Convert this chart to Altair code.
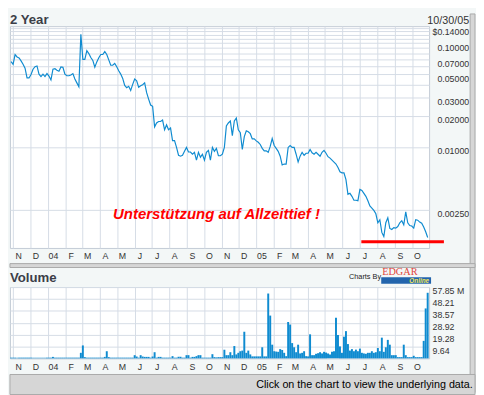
import altair as alt
import pandas as pd

# ---------------- data ----------------
DATES = pd.date_range("2003-10-28", periods=210, freq="84h")
DATE_STR = [d.strftime("%Y-%m-%dT%H:%M:%SZ") for d in DATES]

PRICE = [
    0.0664, 0.0627, 0.0778, 0.0737, 0.0721, 0.0676, 0.0627, 0.0575, 0.0463, 0.0463,
    0.0499, 0.0562, 0.0594, 0.0604, 0.0504, 0.0478, 0.0504, 0.0478, 0.0510, 0.0483,
    0.0443, 0.0562, 0.0568, 0.0550, 0.0538, 0.0591, 0.0587, 0.0504, 0.0486, 0.0486,
    0.0494, 0.0510, 0.0453, 0.0415, 0.0381, 0.1220, 0.0698, 0.0698, 0.0849, 0.0795,
    0.0729, 0.0683, 0.0587, 0.0661, 0.0724, 0.0778, 0.0778, 0.0830, 0.0778, 0.0691,
    0.0613, 0.0613, 0.0640, 0.0594, 0.0544, 0.0504, 0.0458, 0.0393, 0.0373, 0.0385,
    0.0351, 0.0402, 0.0453, 0.0434, 0.0377, 0.0389, 0.0398, 0.0415, 0.0334, 0.0290,
    0.0254, 0.0247, 0.01566, 0.01707, 0.01764, 0.01764, 0.01822, 0.01467, 0.01635, 0.01467,
    0.01532, 0.01156, 0.01156, 0.00993, 0.00835, 0.00818, 0.00835, 0.00911, 0.00993, 0.00897,
    0.00897, 0.00854, 0.00891, 0.00750, 0.00891, 0.00800, 0.00854, 0.00750, 0.00891, 0.00931,
    0.00750, 0.00993, 0.00911, 0.00972, 0.00826, 0.00826, 0.00854, 0.00993, 0.01600, 0.01707,
    0.01783, 0.01289, 0.01783, 0.01903, 0.01467, 0.01375, 0.00951, 0.01261, 0.01436, 0.01405,
    0.01346, 0.01199, 0.01199, 0.01148, 0.01114, 0.01060, 0.00972, 0.00921, 0.00921, 0.00891,
    0.01015, 0.01208, 0.01037, 0.00972, 0.00911, 0.00818, 0.00673, 0.00687, 0.00687, 0.00993,
    0.01037, 0.00993, 0.00993, 0.00854, 0.00718, 0.00818, 0.00891, 0.00835, 0.00873, 0.00873,
    0.00951, 0.00882, 0.00854, 0.00891, 0.00854, 0.00818, 0.00891, 0.00931, 0.00873, 0.00809,
    0.00783, 0.00750, 0.00718, 0.00687, 0.00637, 0.00578, 0.00566, 0.00566, 0.00486, 0.00351,
    0.00359, 0.00336, 0.00308, 0.00308, 0.00305, 0.00392, 0.00383, 0.00359, 0.00336, 0.00305,
    0.00271, 0.00259, 0.00246, 0.00228, 0.00187, 0.00200, 0.00151, 0.00138, 0.00187, 0.00209,
    0.00165, 0.00161, 0.00168, 0.00166, 0.00172, 0.00187, 0.00196, 0.00179, 0.00238, 0.00187,
    0.00176, 0.00174, 0.00166, 0.00200, 0.00198, 0.00190, 0.00185, 0.00170, 0.00153, 0.00135,
]

VOLUME = [  # millions
    0.6, 0.6, 0.6, 0.6, 0.6, 0.6, 0.6, 0.6, 0.6, 0.6,
    0.6, 0.6, 0.6, 0.6, 0.6, 0.6, 0.6, 0.6, 0.6, 0.6,
    0.6, 1.2, 0.6, 0.6, 0.6, 0.6, 0.6, 0.6, 0.6, 0.6,
    0.6, 0.6, 0.6, 0.6, 0.6, 4.5, 10.5, 1.0, 0.6, 0.6,
    0.6, 0.6, 0.6, 0.6, 0.6, 0.6, 0.6, 1.2, 5.8, 1.0,
    0.6, 0.6, 0.6, 0.6, 0.6, 0.6, 0.6, 0.6, 0.6, 0.6,
    0.6, 0.6, 2.6, 1.5, 0.6, 2.6, 1.5, 1.2, 1.2, 1.2,
    0.6, 1.5, 5.0, 0.6, 1.2, 1.2, 0.6, 0.6, 0.6, 0.6,
    0.6, 1.8, 0.6, 0.6, 1.3, 1.3, 0.6, 0.6, 2.6, 2.6,
    0.6, 1.2, 1.2, 1.8, 2.6, 2.6, 0.6, 0.6, 0.6, 0.6,
    0.6, 3.4, 1.0, 0.8, 1.0, 1.0, 1.0, 7.0, 2.6, 2.6,
    5.0, 2.6, 10.0, 3.2, 4.5, 5.8, 6.3, 21.6, 4.5, 6.3,
    3.2, 1.6, 1.6, 1.6, 1.6, 1.6, 9.0, 1.6, 1.6, 52.6,
    34.7, 11.1, 5.8, 5.5, 5.3, 7.5, 6.8, 4.5, 1.8, 29.5,
    27.4, 12.4, 9.0, 5.0, 11.1, 4.0, 4.5, 5.8, 1.8, 1.6,
    19.5, 2.6, 2.6, 3.7, 4.2, 5.0, 4.0, 5.3, 4.7, 4.0,
    3.2, 5.3, 5.8, 32.9, 18.9, 9.7, 4.5, 17.6, 22.1, 11.6,
    6.3, 7.5, 5.8, 7.1, 5.8, 7.9, 4.5, 4.0, 3.7, 4.5,
    4.5, 5.8, 4.5, 5.0, 8.4, 5.8, 16.8, 5.3, 9.0, 15.0,
    11.1, 2.6, 2.6, 2.6, 1.0, 1.0, 1.0, 11.1, 2.6, 1.0,
    1.0, 1.0, 2.1, 1.0, 1.0, 1.0, 1.0, 14.2, 40.5, 53.2,
]

PRICE_GRID = [0.0025, 0.01, 0.02, 0.03, 0.04, 0.05, 0.06, 0.07, 0.08, 0.09,
              0.10, 0.11, 0.12, 0.13, 0.14]
PRICE_LABELED = [0.0025, 0.01, 0.02, 0.03, 0.05, 0.07, 0.10, 0.14]
PRICE_DOMAIN = [0.00107, 0.1458]
VOL_TICKS = [9.64, 19.28, 28.92, 38.57, 48.21, 57.85]
VOL_DOMAIN = [0, 57.85]

SUPPORT = [{"start": "2005-07-04", "end": "2005-11-26", "price": 0.00123}]
NOTE = [{"date": "2004-04-24", "price": 0.00204,
         "text": "Unterstützung auf Allzeittief !"}]

TITLE_TOP = "2 Year"
DATE_LABEL = "10/30/05"
TITLE_BOTTOM = "Volume"
FOOTER = "Click on the chart to view the underlying data."

# ---------------- style ----------------
FONT = "Liberation Sans"
BLUE = "#0f8bd0"
GRID = "#d5dce5"
PANEL = "#f3f7f7"
OUTER = "#d6d6d6"
BORDER = "#a9a9a9"
TXT = "#333333"
W, H1, H2 = 429, 227, 73

df = pd.DataFrame({"date": DATE_STR, "price": PRICE, "volume": VOLUME})
ONE = pd.DataFrame({"k": [0]})

xscale = alt.Scale(
    type="utc",
    domain=[alt.DateTime(year=2003, month=10, date=26, utc=True),
            alt.DateTime(year=2005, month=10, date=31, utc=True)],
    nice=False, padding=0,
)
month_expr = ("utcFormat(datum.value, '%m') == '01' ? utcFormat(datum.value, '%y') "
              ": slice(utcFormat(datum.value, '%b'), 0, 1)")


def xaxis():
    return alt.Axis(title=None, grid=True, gridColor=GRID, gridWidth=1,
                    tickCount={"interval": "month", "step": 1},
                    labelExpr=month_expr, labelOffset=5, labelPadding=4,
                    ticks=False, tickSize=0, domain=False, labelFont=FONT,
                    labelFontSize=9, labelColor=TXT, labelOverlap=False,
                    labelFlush=False)


labeled = ",".join(repr(v) for v in PRICE_LABELED)
price_expr = (f"indexof([{labeled}], datum.value) < 0 ? '' : "
              f"(datum.value >= {max(PRICE_LABELED)} ? '$' : '') + format(datum.value, '.5f')")
yaxis = alt.Axis(title=None, orient="right", values=PRICE_GRID, labelExpr=price_expr,
                 grid=True, gridColor=GRID, gridWidth=1, ticks=False, tickSize=0,
                 domain=False, labelAlign="right", labelBaseline="top",
                 labelPadding=40.5, labelFont=FONT, labelFontSize=9, labelColor=TXT,
                 labelOverlap=False, labelFlush=False)
yscale = alt.Scale(type="log", domain=PRICE_DOMAIN, nice=False, padding=0)

FS = "\u2007"
vol_expr = (f"(datum.value < 10 ? '{FS}' : '') + format(datum.value, '.2f') "
            f"+ (datum.value > {max(VOL_TICKS) - 0.5} ? ' M' : '')")
vaxis = alt.Axis(title=None, orient="right", values=VOL_TICKS, labelExpr=vol_expr,
                 grid=True, gridColor=GRID, gridWidth=1, ticks=False, tickSize=0,
                 domain=False, labelAlign="left", labelBaseline="top",
                 labelPadding=3, labelFont=FONT, labelFontSize=9, labelColor=TXT,
                 labelOverlap=False, labelFlush=False)


def deco_rect(x, x2, y, y2, **kw):
    return alt.Chart(ONE).mark_rect(**kw).encode(
        x=alt.value(x), x2=alt.value(x2), y=alt.value(y), y2=alt.value(y2))


def deco_text(text, x, y, **kw):
    return alt.Chart(ONE).mark_text(text=text, **kw).encode(
        x=alt.value(x), y=alt.value(y))


# ---------------- price panel ----------------
line = alt.Chart(df).mark_line(color=BLUE, strokeWidth=1.2).encode(
    x=alt.X("date:T", scale=xscale, axis=xaxis()),
    y=alt.Y("price:Q", scale=yscale, axis=yaxis),
)
support = alt.Chart(pd.DataFrame(SUPPORT)).mark_rule(color="#ff0000", strokeWidth=3).encode(
    x=alt.X("start:T", scale=xscale, axis=xaxis()),
    x2=alt.X2("end"),
    y=alt.Y("price:Q", scale=yscale, axis=yaxis),
)
note = alt.Chart(pd.DataFrame(NOTE)).mark_text(
    color="#ff0000", font=FONT, fontSize=15.3, fontStyle="italic", fontWeight="bold",
    align="left", baseline="alphabetic",
).encode(
    x=alt.X("date:T", scale=xscale, axis=xaxis()),
    y=alt.Y("price:Q", scale=yscale, axis=yaxis),
    text="text:N",
)

top = alt.layer(
    deco_rect(471, 476, -12.5, 375, fill=OUTER, stroke=BORDER, strokeWidth=1),
    line, support, note,
    deco_text(TITLE_TOP, 0, -2.5, font=FONT, fontSize=13.5, fontWeight="bold",
              color="#3b3e48", align="left", baseline="alphabetic"),
    deco_text(DATE_LABEL, 470, -2.5, font=FONT, fontSize=11, color=TXT,
              align="right", baseline="alphabetic"),
).properties(width=W, height=H1)

# ---------------- volume panel ----------------
bars = alt.Chart(df).mark_bar(color=BLUE, size=2).encode(
    x=alt.X("date:T", scale=xscale, axis=xaxis()),
    y=alt.Y("volume:Q", scale=alt.Scale(domain=VOL_DOMAIN, nice=False, padding=0),
            axis=vaxis),
)

bottom = alt.layer(
    deco_rect(0, 476, -24, -20, fill=OUTER, stroke=BORDER, strokeWidth=1),
    deco_rect(0, 476, 89.5, 110, fill=OUTER, stroke=BORDER, strokeWidth=1),
    bars,
    deco_text(TITLE_BOTTOM, 0, -5.5, font=FONT, fontSize=13.5, fontWeight="bold",
              color="#3b3e48", align="left", baseline="alphabetic"),
    deco_text("Charts By", 347, -8.5, font=FONT, fontSize=7.5, color="#222222",
              align="left", baseline="alphabetic"),
    deco_text("EDGAR", 381, -12.6, font="Liberation Serif", fontSize=10.5,
              color="#e0463c", align="left", baseline="alphabetic"),
    deco_rect(380, 431, -10, -3.4, fill="#2264ac"),
    deco_text("Online", 429, -4.2, font=FONT, fontSize=6.5, fontStyle="italic",
              fontWeight="bold", color="#f0e45a", align="right", baseline="alphabetic"),
    deco_text(FOOTER, 473.7, 103.7, font=FONT, fontSize=11, color="#000000",
              align="right", baseline="alphabetic"),
).properties(width=W, height=H2)

chart = alt.vconcat(top, bottom, spacing=40, bounds="flush").properties(
    padding=0, background=PANEL
).configure_view(stroke="#c3cbd5", strokeWidth=1, fill="white")

chart.save("out.html", embed_options={"renderer": "svg", "actions": False})
